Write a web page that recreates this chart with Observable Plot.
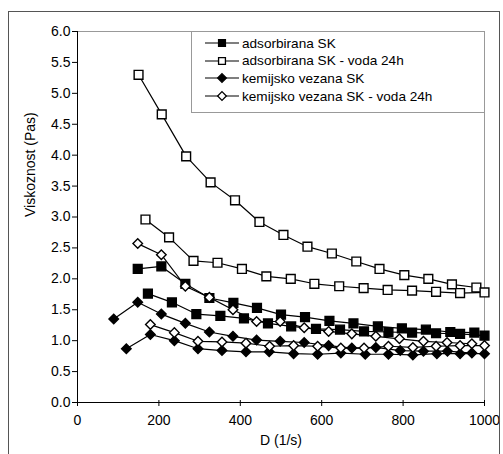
<!DOCTYPE html>
<html>
<head>
<meta charset="utf-8">
<script src="https://cdn.jsdelivr.net/npm/d3@7"></script>
<script src="https://cdn.jsdelivr.net/npm/@observablehq/plot@0.6"></script>
<style>
  html, body { margin: 0; padding: 0; background: #fff; }
  #wrap { position: relative; width: 503px; height: 454px; overflow: hidden; font-family: "Liberation Sans", Arial, sans-serif; }
  #frame { position: absolute; left: 8px; top: 11px; width: 492px; height: 460px; border: 1px solid #555; box-sizing: border-box; pointer-events: none; }
  #legend { position: absolute; left: 191px; top: 31px; width: 294px; height: 82px; border: 1px solid #999; box-sizing: border-box; background: #fff; }
  .row { position: absolute; left: 13px; height: 16px; display: flex; align-items: center; font-size: 13.6px; color: #000; white-space: nowrap; }
  .row svg { margin-right: 3px; }
</style>
</head>
<body>
<div id="wrap"><div id="chart"></div><div id="frame"></div><div id="legend"></div></div>
<script>
// Legend labels (series)
const seriesNames = ["adsorbirana SK", "adsorbirana SK - voda 24h", "kemijsko vezana SK", "kemijsko vezana SK - voda 24h"];
const xTicks = [0, 200, 400, 600, 800, 1000];
const yTicks = [0, 0.5, 1, 1.5, 2, 2.5, 3, 3.5, 4, 4.5, 5, 5.5, 6];

// adsorbirana SK (filled squares) - two runs
const adsUpX = [148, 206, 265, 324, 383, 441, 500, 559, 619, 678, 738, 797, 856, 916, 975];
const adsUpY = [2.16, 2.20, 1.92, 1.69, 1.61, 1.53, 1.42, 1.38, 1.32, 1.28, 1.23, 1.20, 1.18, 1.14, 1.13];
const adsDnX = [173, 232, 292, 351, 409, 468, 525, 586, 645, 704, 764, 822, 881, 940, 1000];
const adsDnY = [1.76, 1.62, 1.43, 1.40, 1.36, 1.28, 1.23, 1.19, 1.18, 1.15, 1.14, 1.13, 1.12, 1.11, 1.08];

// adsorbirana SK - voda 24h (open squares)
const adsWUpX = [150, 207, 267, 327, 387, 447, 506, 565, 625, 685, 742, 803, 862, 920, 980];
const adsWUpY = [5.30, 4.66, 3.98, 3.56, 3.27, 2.92, 2.71, 2.52, 2.41, 2.28, 2.16, 2.06, 2.00, 1.91, 1.86];
const adsWDnX = [167, 225, 285, 344, 404, 464, 524, 582, 643, 703, 762, 822, 881, 940, 1000];
const adsWDnY = [2.96, 2.67, 2.29, 2.26, 2.16, 2.04, 2.00, 1.92, 1.88, 1.85, 1.82, 1.81, 1.79, 1.77, 1.78];

// kemijsko vezana SK (filled diamonds)
const kemUpX = [89, 148, 206, 265, 324, 382, 440, 498, 557, 617, 674, 733, 793, 850, 909, 969];
const kemUpY = [1.35, 1.62, 1.43, 1.28, 1.14, 1.07, 1.01, 0.99, 0.97, 0.92, 0.88, 0.89, 0.84, 0.83, 0.83, 0.80];
const kemDnX = [120, 179, 238, 296, 355, 414, 471, 531, 590, 647, 707, 764, 824, 883, 940, 1000];
const kemDnY = [0.87, 1.10, 1.00, 0.87, 0.84, 0.82, 0.82, 0.79, 0.78, 0.80, 0.78, 0.78, 0.77, 0.79, 0.79, 0.79];

// kemijsko vezana SK - voda 24h (open diamonds)
const kemWUpX = [148, 206, 265, 324, 382, 440, 498, 557, 617, 674, 733, 791, 850, 908, 969];
const kemWUpY = [2.57, 2.39, 1.88, 1.70, 1.50, 1.31, 1.31, 1.21, 1.15, 1.11, 1.07, 1.03, 0.99, 0.97, 0.95];
const kemWDnX = [179, 238, 296, 355, 414, 472, 531, 590, 647, 704, 764, 824, 881, 940, 1000];
const kemWDnY = [1.26, 1.13, 0.99, 0.98, 0.96, 0.91, 0.92, 0.91, 0.88, 0.88, 0.91, 0.89, 0.91, 0.92, 0.92];

const runs = [
  [0, "a", adsUpX, adsUpY], [0, "b", adsDnX, adsDnY],
  [1, "a", adsWUpX, adsWUpY], [1, "b", adsWDnX, adsWDnY],
  [2, "a", kemUpX, kemUpY], [2, "b", kemDnX, kemDnY],
  [3, "a", kemWUpX, kemWUpY], [3, "b", kemWDnX, kemWDnY]
];
const rows = runs.flatMap(([s, r, xs, ys]) => xs.map((x, i) => ({series: seriesNames[s], s, run: s + r, x, y: ys[i]})));

const symFor = s => (s < 2 ? "square2" : "diamond2");
const fillFor = s => (s % 2 === 0 ? "black" : "white");

const dotMarks = [0, 1, 2, 3].map(s => Plot.dot(rows.filter(d => d.s === s), {
  x: "x", y: "y", symbol: symFor(s), r: s < 2 ? 5.6 : 4.3,
  fill: fillFor(s), stroke: "black", strokeWidth: 1.4
}));

const chart = Plot.plot({
  width: 503, height: 454,
  marginLeft: 77, marginRight: 19, marginTop: 31, marginBottom: 52,
  x: {domain: [0, 1000]},
  y: {domain: [0, 6]},
  style: {fontFamily: "'Liberation Sans', Arial, sans-serif", fontSize: "14px", background: "transparent", color: "black"},
  marks: [
    Plot.ruleY([6], {stroke: "#999", strokeWidth: 1}),
    Plot.ruleX([1000], {stroke: "#999", strokeWidth: 1}),
    Plot.line(rows, {x: "x", y: "y", z: "run", stroke: "black", strokeWidth: 1.2}),
    ...dotMarks,
    Plot.ruleX([0], {stroke: "black"}),
    Plot.ruleY([0], {stroke: "black"}),
    Plot.axisY({ticks: yTicks, tickFormat: d3.format(".1f"), tickSize: 5, tickPadding: 2, label: null, fontSize: 14}),
    Plot.axisX({ticks: xTicks, tickFormat: d3.format("d"), tickSize: 0, tickPadding: 13, label: null, fontSize: 14}),
    Plot.axisX({ticks: xTicks, tickSize: 6, text: null, label: null, dy: -2}),
    Plot.text(["Viskoznost (Pas)"], {frameAnchor: "left", rotate: -90, dx: -47, fontSize: 14}),
    Plot.text(["D (1/s)"], {frameAnchor: "bottom", dy: 42, fontSize: 14})
  ]
});
document.getElementById("chart").appendChild(chart);

// Legend
const legend = d3.select("#legend");
seriesNames.forEach((name, s) => {
  const row = legend.append("div").attr("class", "row").style("top", (3 + s * 17.7) + "px");
  const svg = row.append("svg").attr("width", 34).attr("height", 12);
  svg.append("line").attr("x1", 0).attr("x2", 34).attr("y1", 6).attr("y2", 6).attr("stroke", "black").attr("stroke-width", 1.2);
  const sym = d3.symbol().type(s < 2 ? d3.symbolSquare2 : d3.symbolDiamond2).size(s < 2 ? 60 : 48);
  svg.append("path").attr("d", sym()).attr("transform", "translate(17,6)")
    .attr("fill", fillFor(s)).attr("stroke", "black").attr("stroke-width", 1.3);
  row.append("span").text(name);
});
</script>
</body>
</html>
